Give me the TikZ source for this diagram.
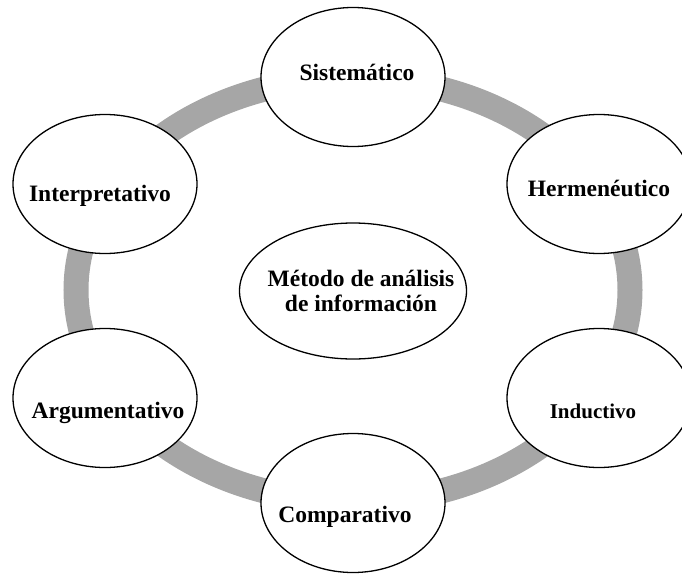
\documentclass[tikz,border=0pt]{standalone}
\usepackage{fontspec}
\setmainfont{Liberation Serif}
\usetikzlibrary{shapes.geometric}
\tikzset{
    oval/.style={draw, ellipse, fill=white, line width=1.3pt,
        minimum width=184pt, minimum height=139pt, inner sep=0pt},
    lbl/.style={anchor=base, inner sep=0pt, font=\fontsize{23.5}{25}\selectfont\bfseries},
}
\begin{document}
\begin{tikzpicture}[x=1pt, y=-1pt]
    \useasboundingbox (0,0) rectangle (682,573);
    \clip (0,0) rectangle (682,573);
    % grey ring behind the ovals
    \draw[line width=25pt, black!35] (353,290) ellipse [x radius=277pt, y radius=212pt];
    % ovals round the ring
    \node[oval] (sis) at (353,77) {};
    \node[oval] (her) at (599,184) {};
    \node[oval] (ind) at (599,398) {};
    \node[oval] (com) at (353,503) {};
    \node[oval] (arg) at (105,398) {};
    \node[oval] (int) at (105,184) {};
    % centre oval
    \node[oval, minimum width=227pt, minimum height=136pt] (met) at (353,291) {};
    % texts
    \node[lbl] (tsis) at ([shift={(4,3)}]sis.center) {Sistemático};
    \node[lbl] (ther) at ([shift={(0,12)}]her.center) {Hermenéutico};
    \node[lbl, font=\fontsize{21}{23}\selectfont\bfseries] (tind) at ([shift={(-6,20)}]ind.center) {Inductivo};
    \node[lbl] (tcom) at ([shift={(-8,19)}]com.center) {Comparativo};
    \node[lbl] (targ) at ([shift={(3,20)}]arg.center) {Argumentativo};
    \node[lbl] (tint) at ([shift={(-5,17)}]int.center) {Interpretativo};
    \node[lbl] (tmet) at ([shift={(8,-5)}]met.center) {Método de análisis};
    \node[lbl] (tinf) at ([shift={(8,20)}]met.center) {de información};
\end{tikzpicture}
\end{document}
